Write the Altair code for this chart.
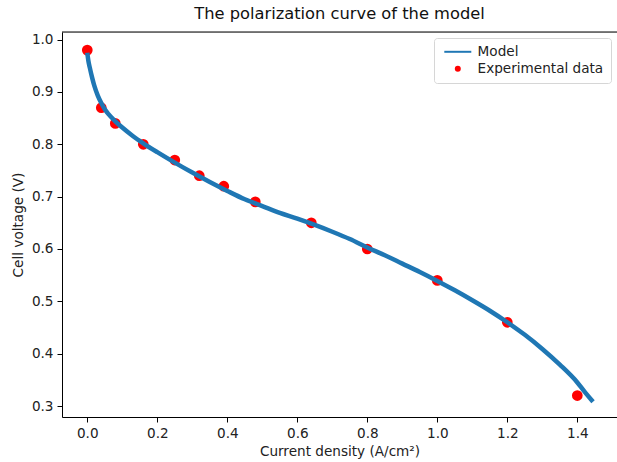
import altair as alt
import pandas as pd

# Model polarization curve: current density (A/cm²) and cell voltage (V)
model_j = [0.0, 0.003, 0.007, 0.014, 0.02, 0.03, 0.04, 0.05, 0.06, 0.08, 0.10,
           0.13, 0.16, 0.20, 0.25, 0.30, 0.35, 0.40, 0.45, 0.50, 0.55, 0.60,
           0.65, 0.70, 0.75, 0.80, 0.85, 0.90, 0.95, 1.00, 1.05, 1.10, 1.15,
           1.20, 1.25, 1.30, 1.35, 1.40, 1.42, 1.445]
model_v = [0.975, 0.960, 0.947, 0.927, 0.912, 0.893, 0.879, 0.867, 0.858, 0.844, 0.832,
           0.816, 0.802, 0.785, 0.765, 0.746, 0.728, 0.711, 0.695, 0.682, 0.669, 0.658,
           0.646, 0.633, 0.619, 0.603, 0.588, 0.572, 0.556, 0.539, 0.521, 0.502, 0.482,
           0.460, 0.436, 0.409, 0.379, 0.345, 0.328, 0.308]

# Measured points
exp_j = [0.0, 0.04, 0.08, 0.16, 0.25, 0.32, 0.39, 0.48, 0.64, 0.80, 1.00, 1.20, 1.40]
exp_v = [0.98, 0.87, 0.84, 0.80, 0.77, 0.74, 0.72, 0.69, 0.65, 0.60, 0.54, 0.46, 0.32]

series_names = ["Model", "Experimental data"]
series_colors = ["#1f77b4", "#ff0000"]
x_ticks = [0.0, 0.2, 0.4, 0.6, 0.8, 1.0, 1.2, 1.4]
y_ticks = [0.3, 0.4, 0.5, 0.6, 0.7, 0.8, 0.9, 1.0]

model_df = pd.DataFrame({"j": model_j, "v": model_v, "series": series_names[0]})
exp_df = pd.DataFrame({"j": exp_j, "v": exp_v, "series": series_names[1]})
frame_df = pd.DataFrame({"edge": ["top"]})

FONT = "DejaVu Sans"
x_scale = alt.Scale(domain=[-0.07225, 1.5134], nice=False, zero=False)
y_scale = alt.Scale(domain=[0.279, 1.0146], nice=False, zero=False)

axis_style = dict(
    grid=False, domainColor="#000000", domainWidth=1, tickColor="#000000",
    tickWidth=1, tickSize=5, labelPadding=4, labelFont=FONT, labelFontSize=13.6,
    labelColor="#222222", titleFont=FONT, titleFontSize=13.6,
    titleFontWeight="normal", titleColor="#222222",
)

y_axis = alt.Axis(values=y_ticks, format=".1f", title="Cell voltage (V)",
                  titlePadding=6, **axis_style)
x_axis = alt.Axis(values=x_ticks, format=".1f", title="Current density (A/cm²)",
                  titlePadding=5, labelFlush=False, **axis_style)

# Legend glyphs: a short bar for the model line, a dot for the measurements
legend_shapes = ["M-4.5,-0.33H4.5V0.33H-4.5Z", "circle"]
legend = alt.Legend(
    title=None, orient="none", legendX=372, legendY=6,
    padding=7, symbolOffset=10, labelOffset=13, rowPadding=2,
    symbolSize=36, symbolStrokeWidth=0, labelFont=FONT, labelFontSize=13.6,
    labelColor="#222222", strokeColor="#d6d6d6", fillColor="#ffffff",
    cornerRadius=3,
)

points = alt.Chart(exp_df).mark_point(filled=True, opacity=1, size=115).encode(
    x=alt.X("j:Q", scale=x_scale, axis=x_axis),
    y=alt.Y("v:Q", scale=y_scale, axis=y_axis),
    color=alt.Color("series:N", scale=alt.Scale(domain=series_names, range=series_colors),
                    legend=legend),
    shape=alt.Shape("series:N", scale=alt.Scale(domain=series_names, range=legend_shapes),
                    legend=legend),
)

line = alt.Chart(model_df).mark_line(
    strokeWidth=4.5, color=series_colors[0], interpolate="monotone"
).encode(
    x=alt.X("j:Q", scale=x_scale, axis=x_axis),
    y=alt.Y("v:Q", scale=y_scale, axis=y_axis),
    order=alt.Order("j:Q"),
)

# Upper frame edge of the axes box
top_edge = alt.Chart(frame_df).mark_rule(color="#000000", strokeWidth=1).encode(
    y=alt.value(0), x=alt.value(0), x2=alt.value(555)
)

chart = (
    alt.layer(points, line, top_edge)
    .properties(
        width=555, height=385,
        padding={"left": 62, "top": 32, "right": 0, "bottom": 45},
        autosize="none",
        title=alt.TitleParams("The polarization curve of the model", font=FONT,
                              fontSize=16.3, fontWeight="normal", color="#111111",
                              anchor="middle", offset=9),
    )
    .configure_view(stroke=None)
    .configure(background="white")
)

chart.save("out.html", embed_options={"renderer": "svg", "actions": False})
